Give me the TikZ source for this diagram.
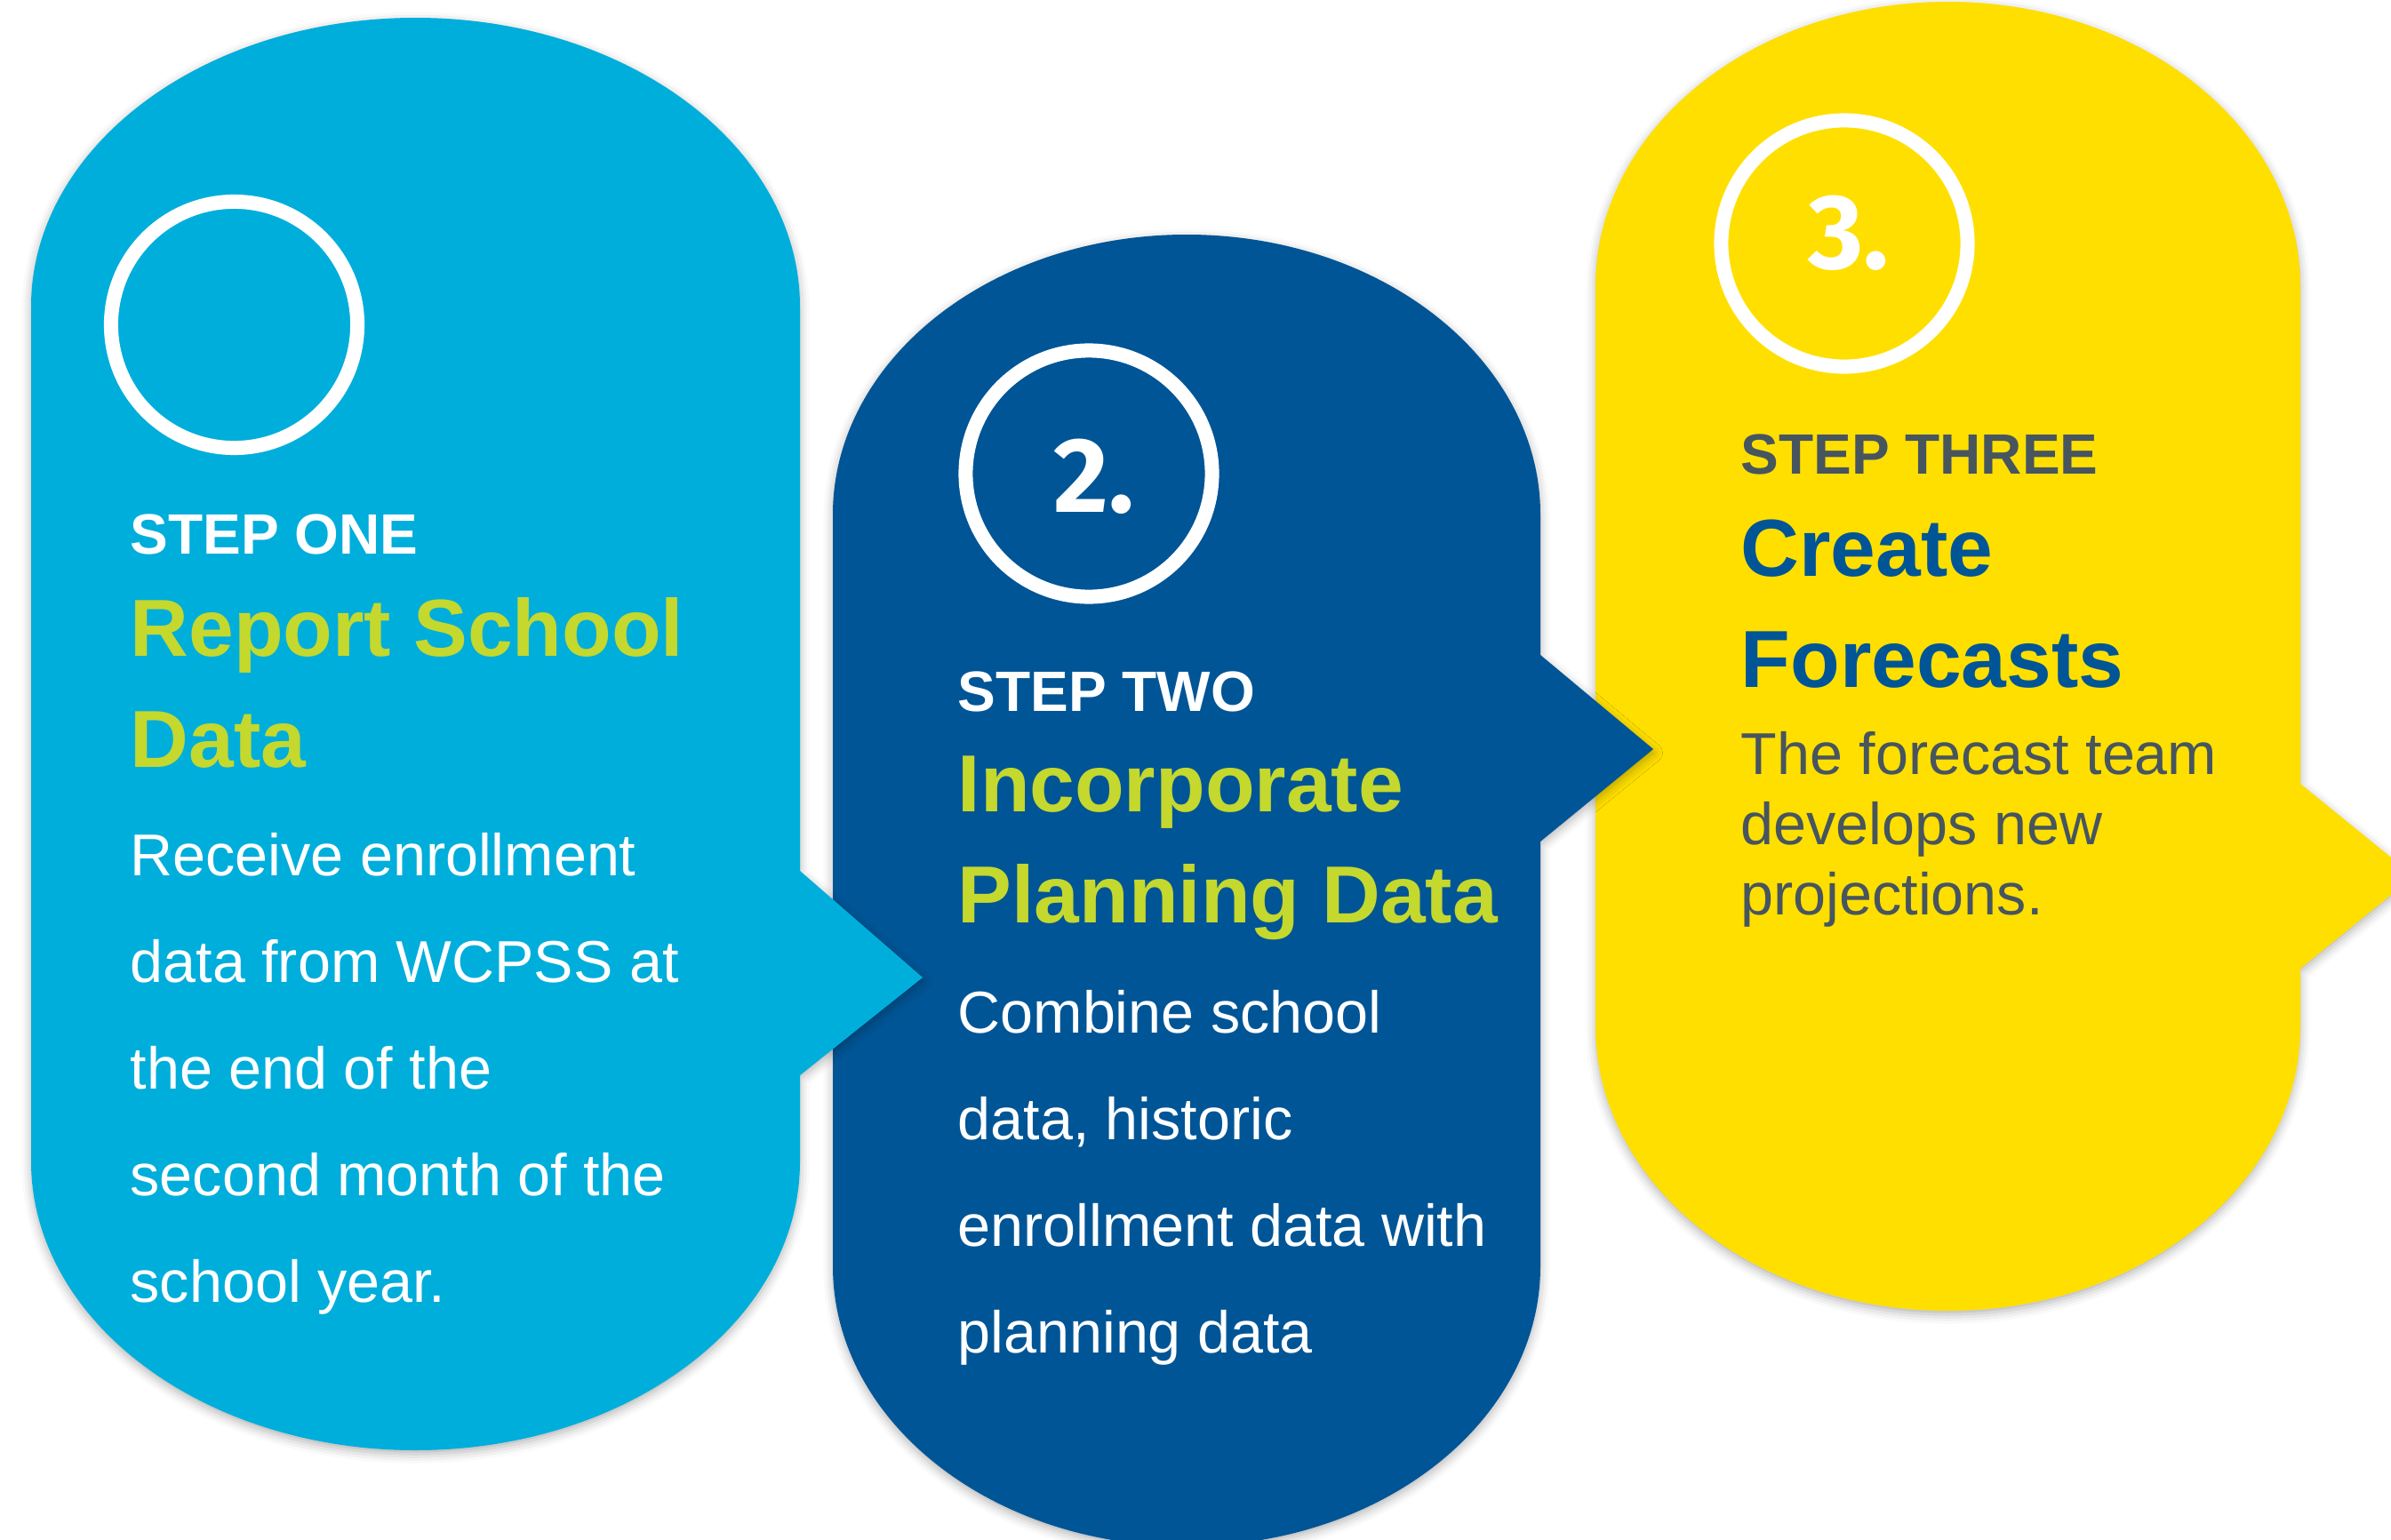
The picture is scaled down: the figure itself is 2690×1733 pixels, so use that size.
\documentclass[tikz,border=0pt]{standalone}
\usepackage{fontspec}
\setmainfont{Liberation Sans}
\newfontfamily\numfont{Fira Sans}
\usetikzlibrary{shadows.blur}
\definecolor{cA}{RGB}{0,174,219}
\definecolor{cB}{RGB}{0,85,150}
\definecolor{cC}{RGB}{255,223,0}
\definecolor{cGreen}{RGB}{196,216,46}
\definecolor{cGray}{RGB}{71,85,95}
\tikzset{
  pill/.style={blur shadow={shadow xshift=0pt, shadow yshift=-1.2pt, shadow blur radius=3pt, shadow opacity=30}},
  ring/.style={circle, draw=white, line width=4.55pt, minimum size=2.77cm, inner sep=0pt},
  numtxt/.style={anchor=base, inner sep=0pt, text=white, font=\numfont\bfseries\fontsize{34pt}{34pt}\selectfont},
  steplbl/.style={anchor=base west, inner sep=0pt, font=\bfseries\fontsize{18.2pt}{18.2pt}\selectfont},
  ttl/.style={anchor=base west, inner sep=0pt, font=\bfseries\fontsize{25.9pt}{25.9pt}\selectfont},
  bodytxt/.style={anchor=base west, inner sep=0pt, font=\fontsize{18.9pt}{18.9pt}\selectfont}
}
\begin{document}
\begin{tikzpicture}[x=0.01cm, y=0.01cm]
\useasboundingbox (0,0) rectangle (2690,-1733);
\clip (0,0) rectangle (2690,-1733);
% shape 3 (yellow)
\fill[cC, pill] (1795,-322) arc[start angle=180, end angle=0, x radius=396.5, y radius=320]
  -- (2588,-882) -- (2716,-986) -- (2588,-1090) -- (2588,-1155)
  arc[start angle=0, end angle=-180, x radius=396.5, y radius=320] -- cycle;
% shape 2 (dark blue)
\fill[cB, pill] (937,-579) arc[start angle=180, end angle=0, x radius=398, y radius=315]
  -- (1733,-737) -- (1860,-843) -- (1733,-947) -- (1733,-1425)
  arc[start angle=0, end angle=-180, x radius=398, y radius=315] -- cycle;
% shape 1 (light blue)
\fill[cA, pill] (35,-345) arc[start angle=180, end angle=0, x radius=432.5, y radius=325]
  -- (900,-980) -- (1038,-1100) -- (900,-1210) -- (900,-1307)
  arc[start angle=0, end angle=-180, x radius=432.5, y radius=325] -- cycle;

% rings
\node[ring] (r1) at (263.5,-365.5) {};
\node[ring] (r2) at (1225,-533) {};
\node[ring] (r3) at (2075,-274) {};
\node[numtxt] (n2) at (1231,-576) {2.};
\node[numtxt] (n3) at (2080,-302) {3.};

% step one text
\node[steplbl, text=white] (s1) at (146,-623) {STEP ONE};
\node[ttl, text=cGreen] (t1a) at (146,-738) {Report School};
\node[ttl, text=cGreen] (t1b) at (146,-863) {Data};
\node[bodytxt, text=white] (b1a) at (146,-985) {Receive enrollment};
\node[bodytxt, text=white] (b1b) at (146,-1105) {data from WCPSS at};
\node[bodytxt, text=white] (b1c) at (146,-1225) {the end of the};
\node[bodytxt, text=white] (b1d) at (146,-1345) {second month of the};
\node[bodytxt, text=white] (b1e) at (146,-1465) {school year.};

% step two text
\node[steplbl, text=white] (s2) at (1077,-800) {STEP TWO};
\node[ttl, text=cGreen] (t2a) at (1077,-913) {Incorporate};
\node[ttl, text=cGreen] (t2b) at (1077,-1038) {Planning Data};
\node[bodytxt, text=white] (b2a) at (1077,-1162) {Combine school};
\node[bodytxt, text=white] (b2b) at (1077,-1282) {data, historic};
\node[bodytxt, text=white] (b2c) at (1077,-1402) {enrollment data with};
\node[bodytxt, text=white] (b2d) at (1077,-1522) {planning data};

% step three text
\node[steplbl, text=cGray] (s3) at (1958,-533) {STEP THREE};
\node[ttl, text=cB] (t3a) at (1958,-648) {Create};
\node[ttl, text=cB] (t3b) at (1958,-773) {Forecasts};
\node[bodytxt, text=cGray] (b3a) at (1958,-871) {The forecast team};
\node[bodytxt, text=cGray] (b3b) at (1958,-950) {develops new};
\node[bodytxt, text=cGray] (b3c) at (1958,-1029) {projections.};
\end{tikzpicture}
\end{document}
